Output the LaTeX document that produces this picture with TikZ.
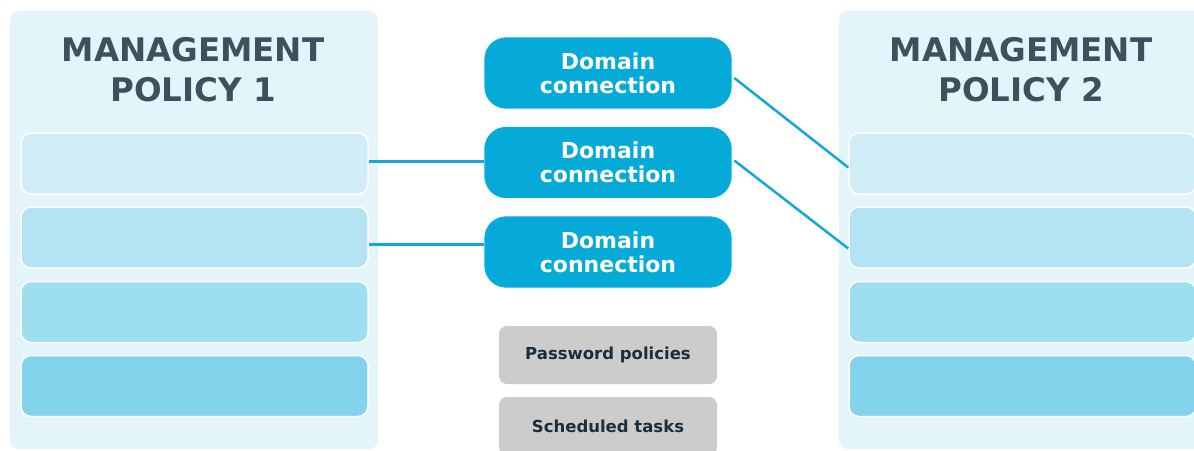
\documentclass[tikz,border=0pt]{standalone}
\usepackage{fontspec}
\setmainfont{DejaVu Sans}
\usepackage{tikz}
\usetikzlibrary{positioning}

\definecolor{panelbg}{HTML}{E3F4FA}
\definecolor{rowa}{HTML}{CFECF7}
\definecolor{rowb}{HTML}{B4E4F3}
\definecolor{rowc}{HTML}{9DDEF0}
\definecolor{rowd}{HTML}{84D3EC}
\definecolor{dcblue}{HTML}{05AAD8}
\definecolor{linkblue}{HTML}{14A8D6}
\definecolor{titlegray}{HTML}{3E505C}
\definecolor{taskgray}{HTML}{CCCCCC}
\definecolor{tasktext}{HTML}{1C2E3B}

\begin{document}
\begin{tikzpicture}[x=1pt, y=-1pt, line join=round]
    \tikzstyle{panel_style} = [draw=none, fill=panelbg, rounded corners=9pt, inner sep=0pt]
    \tikzstyle{row_style} = [draw=white, line width=1.5pt, rounded corners=10pt, minimum width=347pt, minimum height=61pt, inner sep=0pt]
    \tikzstyle{title_style} = [text=titlegray, align=center, font=\fontsize{32.5}{40}\selectfont\bfseries]
    \tikzstyle{dc_style} = [fill=dcblue, draw=white, line width=0.6pt, rounded corners=22pt, minimum width=248pt, minimum height=72pt, text=white, align=center, font=\fontsize{22}{24}\selectfont\bfseries]
    \tikzstyle{task_style} = [fill=taskgray, rounded corners=8pt, minimum width=218pt, minimum height=58pt, text=tasktext, font=\fontsize{16.5}{18}\selectfont\bfseries]
    \tikzstyle{link_style} = [draw=linkblue, line width=2.5pt]
    \clip (0,0) rectangle (1194,450);
    \fill[white] (0,0) rectangle (1194,450);

    % policy panels
    \node[panel_style, minimum width=368pt, minimum height=438pt] (p1) at (194,230) {};
    \node[panel_style, minimum width=380pt, minimum height=438pt] (p2) at (1029,230) {};
    \node[title_style] (t1) at (193,69.5) {MANAGEMENT\\POLICY 1};
    \node[title_style] (t2) at (1021,69.5) {MANAGEMENT\\POLICY 2};

    % rows of policy 1
    \node[row_style, fill=rowa] (l1) at (194.5,163.5) {};
    \node[row_style, fill=rowb] (l2) at (194.5,237.5) {};
    \node[row_style, fill=rowc] (l3) at (194.5,312) {};
    \node[row_style, fill=rowd] (l4) at (194.5,386) {};

    % rows of policy 2
    \node[row_style, fill=rowa] (r1) at (1022.5,163.5) {};
    \node[row_style, fill=rowb] (r2) at (1022.5,237.5) {};
    \node[row_style, fill=rowc] (r3) at (1022.5,312) {};
    \node[row_style, fill=rowd] (r4) at (1022.5,386) {};

    % domain connections
    \node[dc_style] (dc1) at (608,73) {Domain\\connection};
    \node[dc_style] (dc2) at (608,162.5) {Domain\\connection};
    \node[dc_style] (dc3) at (608,252) {Domain\\connection};

    % other objects
    \node[task_style] (pw) at (608,355) {Password policies};
    \node[task_style] (st) at (608,426) {Scheduled tasks};

    \draw[link_style] ([yshift=2pt]l1.east) -- ([yshift=2pt]l1.east -| dc2.west);
    \draw[link_style] ([yshift=-7pt]l2.east) -- ([yshift=-7pt]l2.east -| dc3.west);
    \draw[link_style] ([xshift=2pt,yshift=-5pt]dc1.east) -- ([yshift=-4pt]r1.west);
    \draw[link_style] ([xshift=2pt,yshift=2pt]dc2.east) -- ([yshift=-11pt]r2.west);
\end{tikzpicture}
\end{document}
